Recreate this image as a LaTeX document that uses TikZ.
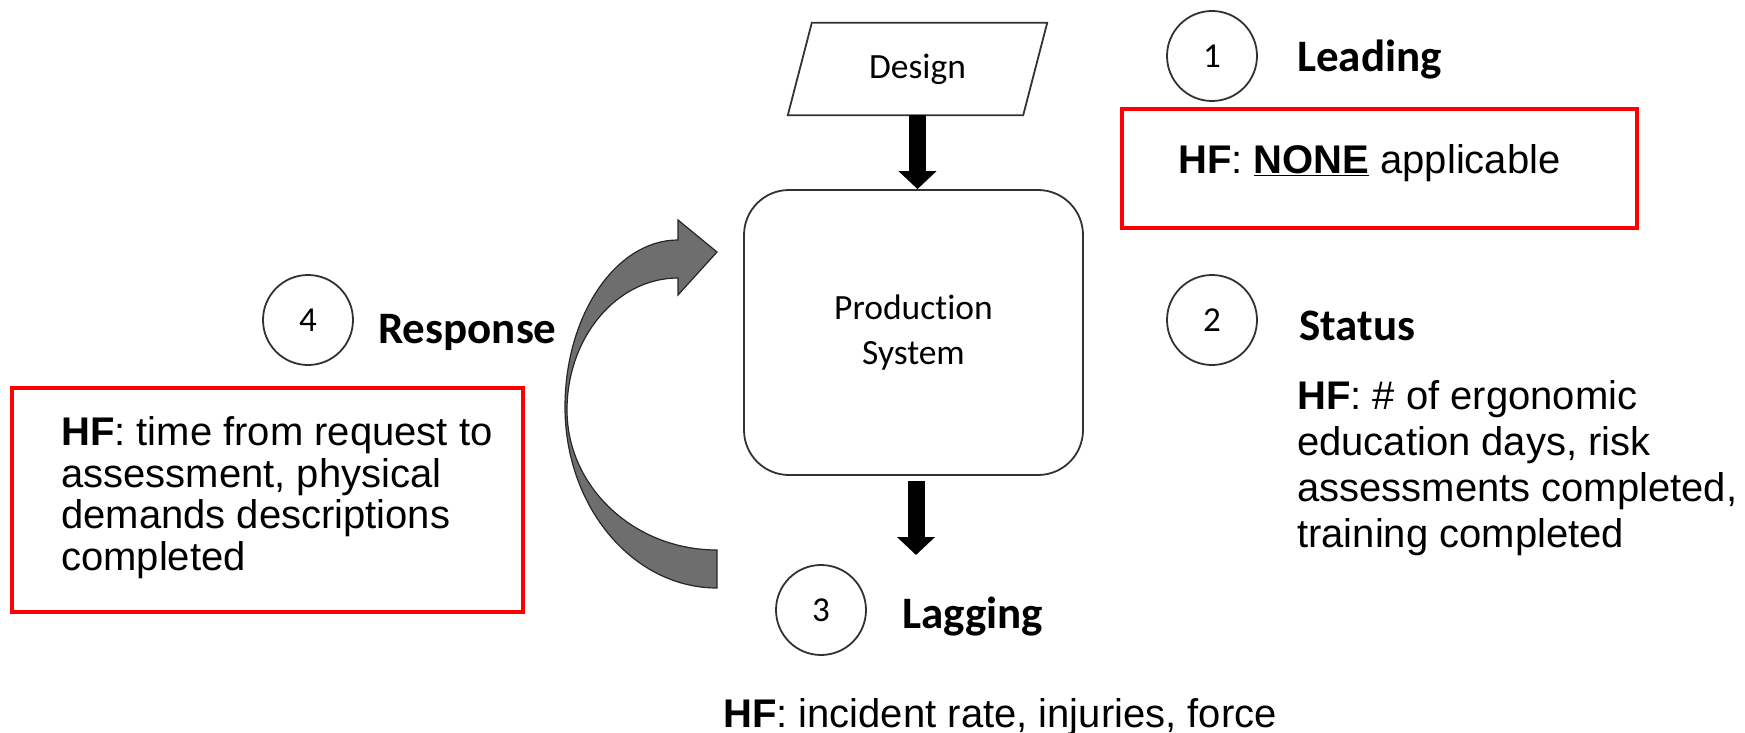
\documentclass[tikz,border=0pt]{standalone}
\usepackage{fontspec}
\setmainfont{Liberation Sans}
\newfontfamily\carlito{Carlito}[Ligatures=NoCommon]
\usetikzlibrary{arrows.meta,calc}
\definecolor{boxred}{RGB}{255,0,0}
\definecolor{arrowgray}{RGB}{110,110,110}
\definecolor{edgegray}{RGB}{50,50,50}
\begin{document}
\begin{tikzpicture}[x=1pt,y=-1pt,
  numcircle/.style={circle,draw=edgegray,line width=1.8pt,minimum size=90pt,inner sep=0pt,
    font=\carlito\fontsize{35}{40}\selectfont},
  headtext/.style={anchor=base west,inner sep=0pt,font=\carlito\bfseries\fontsize{45}{54}\selectfont},
  bodytext/.style={anchor=base west,inner sep=0pt,align=left},
  redbox/.style={draw=boxred,line width=3.5pt,inner sep=0pt},
  blockarrow/.style={line width=17pt,-{Triangle[length=18pt,width=37pt]}},
  shapetext/.style={font=\carlito\fontsize{35.5}{45}\selectfont,align=center},
]
\useasboundingbox (0,0) rectangle (1745,733);

% design input (parallelogram drawn around a plain node)
\node[shapetext,minimum width=235pt,minimum height=92pt,inner sep=0pt] (design) at (917.5,69) {Design};
\draw[line width=1.8pt,edgegray]
  ($(design.north west)+(12,0)$) -- ($(design.north east)+(12,0)$)
  -- ($(design.south east)+(-12,0)$) -- ($(design.south west)+(-12,0)$) -- cycle;

% production system
\node[shapetext,draw=edgegray,line width=1.8pt,rounded corners=45pt,
      minimum width=339pt,minimum height=285pt] (prod) at (913.5,332.5) {Production\\System};

% vertical block arrows
\draw[blockarrow] (design.south) -- (design.south |- prod.north);
\coordinate (down) at (916,555);
\draw[blockarrow] (down |- prod.south) ++(0,5) -- (down);

% curved feedback arrow
\filldraw[fill=arrowgray,draw=black!85,line width=1.2pt]
  (717,588) .. controls (633,588) and (565,507) .. (565,407)
  .. controls (565,315) and (616,240) .. (678,240)
  -- (678,220) -- (717,252) -- (678,295) -- (678,278)
  .. controls (617,278) and (567,337) .. (567,410)
  .. controls (567,487) and (634,550) .. (717,550)
  -- cycle;

% numbered stages
\node[numcircle] (c1) at (1212,56) {1};
\node[numcircle] (c2) at (1212,320) {2};
\node[numcircle] (c3) at (821,610) {3};
\node[numcircle] (c4) at (308,320) {4};

\node[headtext] (leading) at (1297,72) {Leading};
\node[headtext] (status) at (1299,340) {Status};
\node[headtext] (lagging) at (902,628) {Lagging};
\node[headtext] (response) at (378,343) {Response};

% measures (multi-line nodes sit on the baseline of their last line)
\node[redbox,minimum width=515pt,minimum height=119pt] (box1) at (1379.5,168.5) {};
\node[bodytext,font=\fontsize{40}{46}\selectfont] (hf1) at (1178,173)
  {\textbf{HF}: \textbf{\underline{NONE}} applicable};

\node[bodytext,font=\fontsize{40}{46}\selectfont] (hf2) at (1297,547)
  {\textbf{HF}: \# of ergonomic\\education days, risk\\assessments completed,\\training completed};

\node[bodytext,font=\fontsize{40}{46}\selectfont] (hf3) at (723,727)
  {\textbf{HF}: incident rate, injuries, force};

\node[redbox,minimum width=511pt,minimum height=224pt] (box4) at (267.5,500) {};
\node[bodytext,font=\fontsize{40}{41.5}\selectfont] (hf4) at (61,570)
  {\textbf{HF}: time from request to\\assessment, physical\\demands descriptions\\completed};
\end{tikzpicture}
\end{document}
